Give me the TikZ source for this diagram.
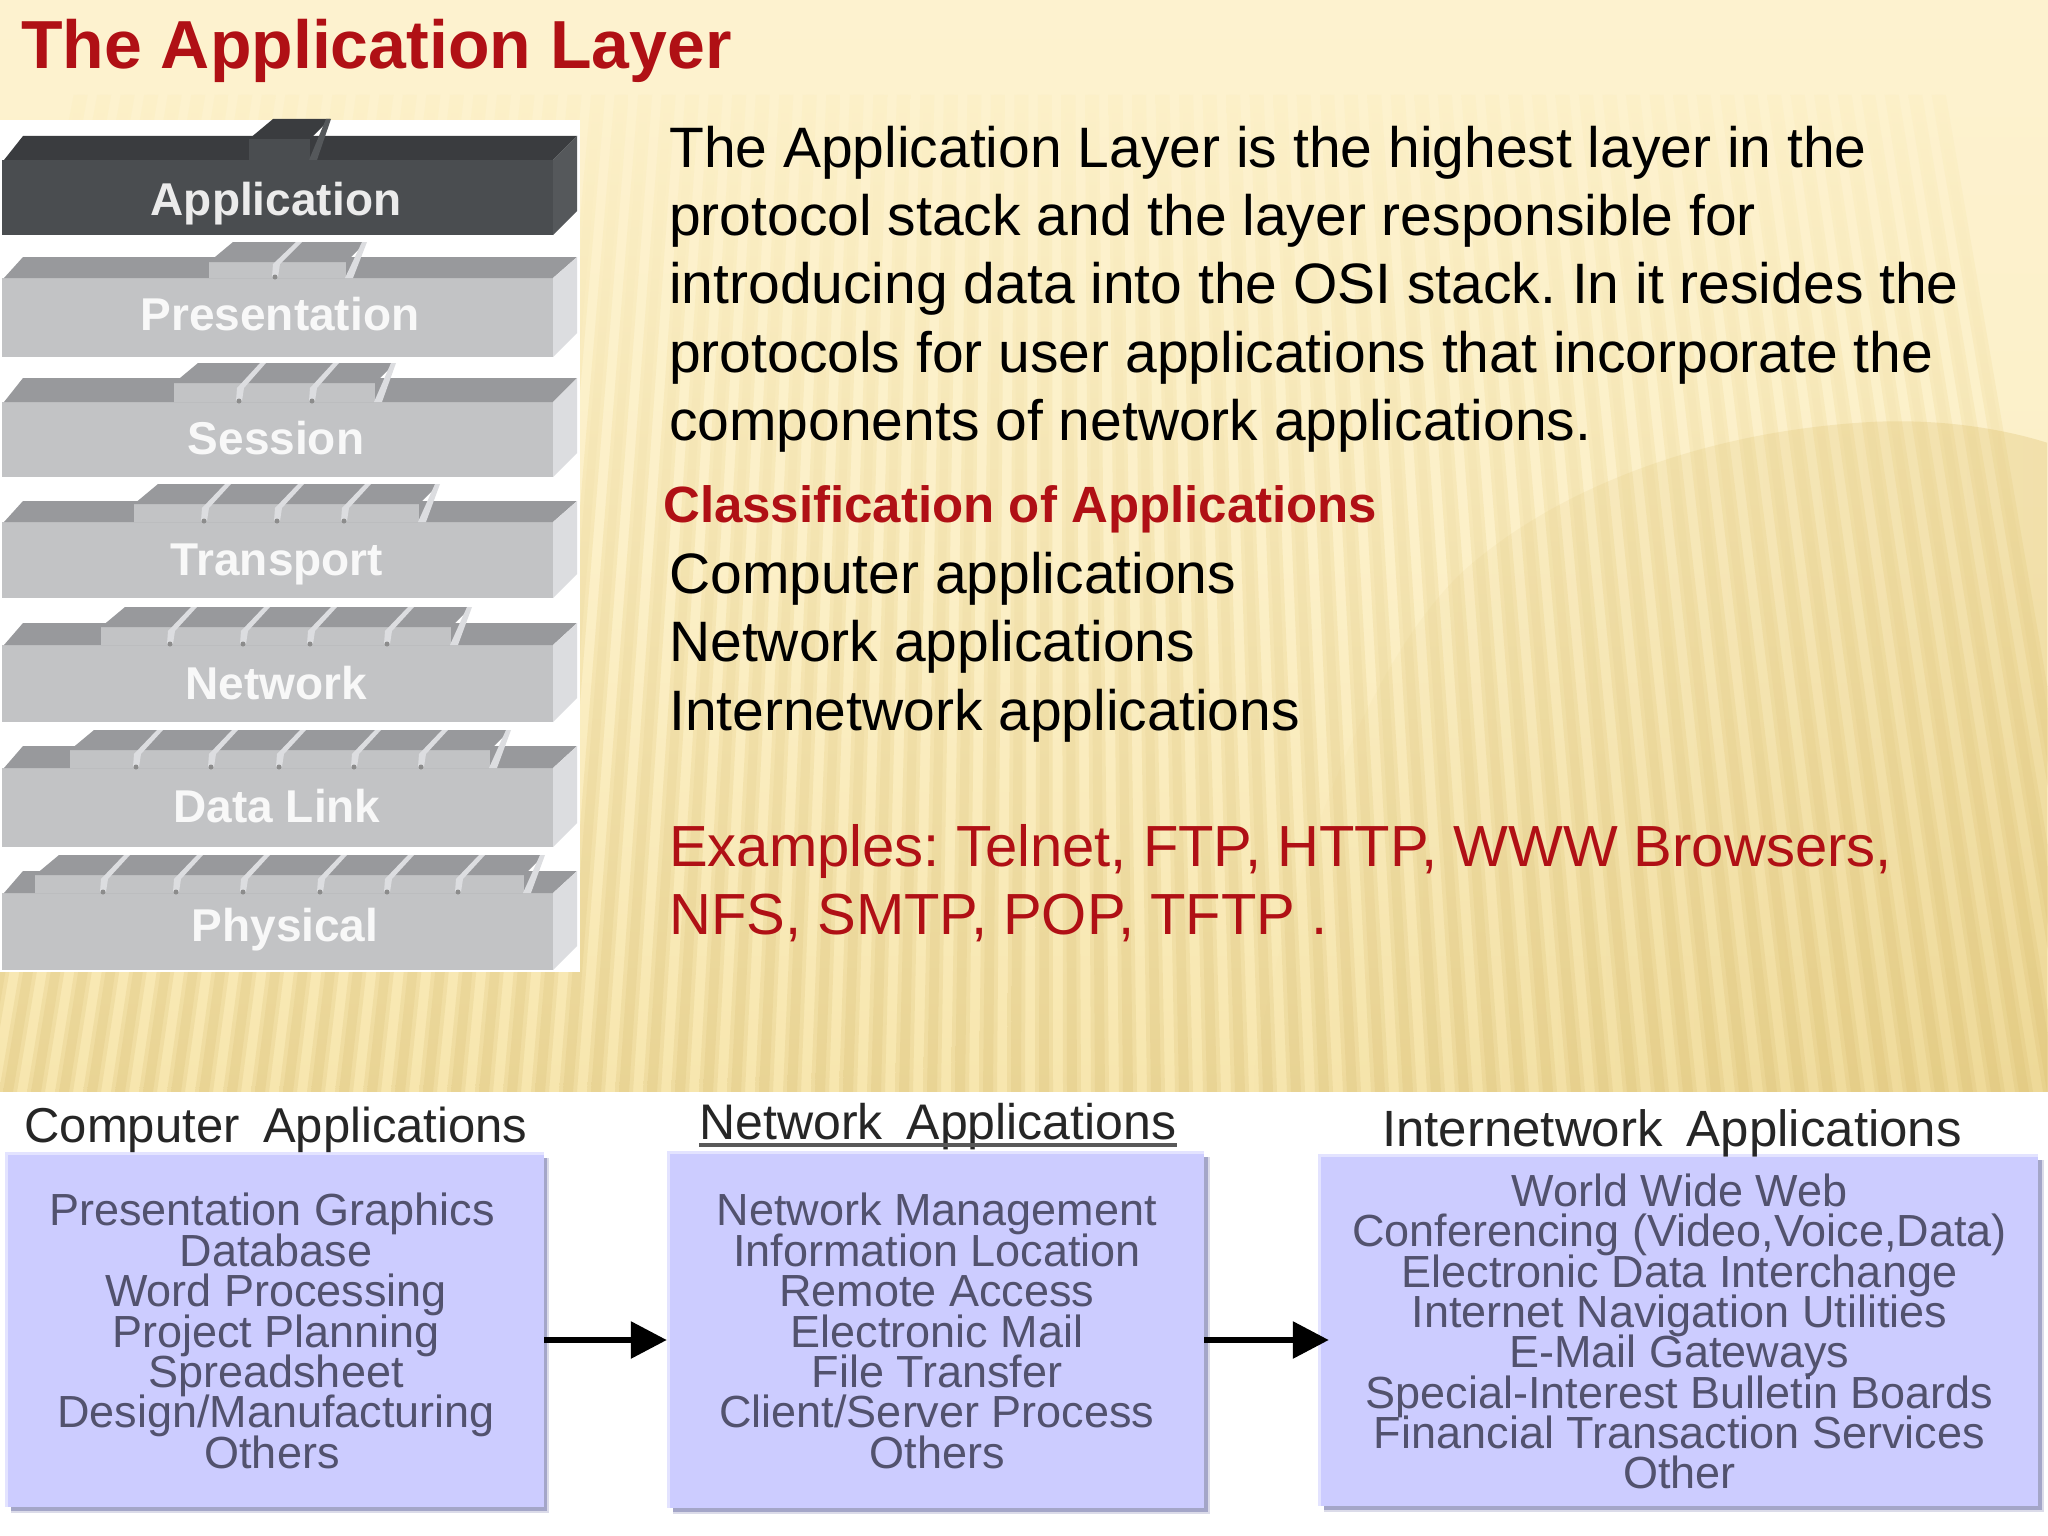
\documentclass[tikz,border=0pt]{standalone}
\usepackage{fontspec}
\setmainfont{Liberation Sans}
\usetikzlibrary{arrows.meta,fadings,calc}
\definecolor{bgtop}{HTML}{FDF2CF}
\definecolor{bgmid}{HTML}{FCF0C8}
\definecolor{bgbot}{HTML}{F7E6AE}
\definecolor{stripebot}{HTML}{E9D494}
\definecolor{domec}{HTML}{D8B85E}
\definecolor{redtxt}{HTML}{B01015}
\definecolor{boxfill}{HTML}{CCCCFF}
\definecolor{boxtxt}{HTML}{52526E}
\definecolor{boxshadow}{HTML}{A4A6C8}
\definecolor{dtop}{HTML}{3A3C3F}
\definecolor{dfront}{HTML}{4A4D50}
\definecolor{dside}{HTML}{55585B}
\definecolor{ltop}{HTML}{98999C}
\definecolor{lfront}{HTML}{C2C3C5}
\definecolor{lside}{HTML}{DCDDE0}
\newcommand{\appfont}{\fontsize{45}{40.4}\selectfont\lineskiplimit=-100pt\relax}
\tikzset{
  body/.style={font=\fontsize{57}{68.3}\selectfont\frenchspacing,anchor=west,inner sep=0pt,align=left,text=black},
  redbody/.style={body,font=\fontsize{58}{68.3}\selectfont\frenchspacing,text=redtxt},
  layerlabel/.style={font=\fontsize{46}{46}\selectfont\bfseries,anchor=base,inner sep=0pt,text=#1},
  appbox/.style={fill=boxfill,inner sep=0pt,align=center,text=boxtxt,font=\appfont},
  apphead/.style={font=\fontsize{#1}{#1}\selectfont,inner sep=0pt,text=black!85},
  flow/.style={line width=6pt,-{Triangle[length=36pt,width=36pt]}},
}
\newcommand{\nudge}{\hspace*{8pt}}
% #1 back y, #2 front-top y, #3 bottom y, #4 bump top y, #5/#6 bump front L/R, #7 top col, #8 front col, #9 side col
\newcommand{\slab}[9]{%
  \fill[#8] (2,#2) rectangle (553,#3);
  \fill[#7] (4,#2) -- (23,#1) -- (577,#1) -- (553,#2) -- cycle;
  \fill[#9] (553,#2) -- (577,#1) -- (577,#3-24) -- (553,#3) -- cycle;
  \fill[#8] (#5,#4+20) rectangle (#6,#2);
  \fill[#7] (#5,#4+20) -- (#5+24,#4) -- (#6+20,#4) -- (#6,#4+20) -- cycle;
  \fill[#9] (#6-1,#2) -- (#6+7,#2) -- (#6+21,#4) -- (#6+16,#4) -- cycle;
}
\newcommand{\notch}[3]{%
  \fill[lside] (#1-3,#2-1) -- (#1+3,#2-1) -- (#1+5,#2-14) -- (#1+27,#3) -- (#1+21,#3) -- (#1-2,#2-14) -- cycle;
  \fill[black!45] (#1,#2-1) circle (2.5);
}
\begin{document}
\begin{tikzpicture}[x=1pt,y=-1pt]
\useasboundingbox (0,0) rectangle (2048,1536);
% background
\fill[white] (0,0) rectangle (2048,1536);
\shade[top color=bgtop,bottom color=bgbot,middle color=bgmid] (0,0) rectangle (2048,1092);
\begin{scope}
\clip (0,0) rectangle (2048,1092);
\foreach \i in {-3,...,76} {
  \pgfmathsetmacro{\xb}{-20+28*\i}
  \pgfmathsetmacro{\xt}{1050+(\xb-1050)*0.84}
  \shade[top color=bgmid,bottom color=stripebot!55!bgbot] (\xt-7,95) -- (\xt+7,95) -- (\xb+9,1092) -- (\xb-9,1092) -- cycle;
  \shade[top color=bgmid,bottom color=stripebot] (\xt-3.5,95) -- (\xt+3.5,95) -- (\xb+5,1092) -- (\xb-5,1092) -- cycle;
}
\shade[left color=domec,right color=domec,path fading=west,fill opacity=.28]
  (1250,1092) .. controls (1300,800) and (1400,620) .. (1476,560)
  .. controls (1560,490) and (1700,430) .. (1876,421)
  .. controls (1950,418) and (2010,430) .. (2048,442) -- (2048,1092) -- cycle;
\end{scope}
% title
\node[font=\fontsize{68}{68}\selectfont\bfseries,text=redtxt,anchor=base west,inner sep=0pt] (title) at (21,69) {The Application Layer};
% OSI stack
\fill[white] (0,120) rectangle (580,972);
\slab{136}{160}{235}{119}{249}{310}{dtop}{dfront}{dside}
\slab{257}{278}{357}{242}{209}{346}{ltop}{lfront}{lside}
\notch{275}{278}{242}
\slab{378}{402}{477}{363}{174}{375}{ltop}{lfront}{lside}
\notch{239}{402}{363}\notch{312}{402}{363}
\slab{501}{522}{598}{484}{134}{419}{ltop}{lfront}{lside}
\notch{204}{522}{484}\notch{277}{522}{484}\notch{344}{522}{484}
\slab{623}{645}{722}{607}{101}{451}{ltop}{lfront}{lside}
\notch{170}{645}{607}\notch{243}{645}{607}\notch{310}{645}{607}\notch{387}{645}{607}
\slab{746}{768}{847}{730}{70}{490}{ltop}{lfront}{lside}
\notch{136}{768}{730}\notch{211}{768}{730}\notch{279}{768}{730}\notch{354}{768}{730}\notch{421}{768}{730}
\slab{871}{893}{970}{855}{35}{524}{ltop}{lfront}{lside}
\notch{103}{893}{855}\notch{176}{893}{855}\notch{243}{893}{855}\notch{320}{893}{855}\notch{387}{893}{855}\notch{458}{893}{855}
\node[layerlabel=white!92!black] (lapp) at (276,215) {Application};
\node[layerlabel=white!88!lfront] (lpre) at (280,330) {Presentation};
\node[layerlabel=white!88!lfront] (lses) at (276,454) {Session};
\node[layerlabel=white!88!lfront] (ltra) at (277,575) {Transport};
\node[layerlabel=white!88!lfront] (lnet) at (276,699) {Network};
\node[layerlabel=white!88!lfront] (ldat) at (277,822) {Data Link};
\node[layerlabel=white!88!lfront] (lphy) at (285,941) {Physical};
% text
\node[body] (para) at (669,289) {The Application Layer is the highest layer in the\\protocol stack and the layer responsible for\\introducing data into the OSI stack. In it resides the\\protocols for user applications that incorporate the\\components of network applications.};
\node[font=\fontsize{51}{51}\selectfont\bfseries,text=redtxt,anchor=base west,inner sep=0pt] (clshead) at (663,522) {Classification of Applications};
\node[body] (clslist) at (669,647) {Computer applications\\Network applications\\Internetwork applications};
\node[redbody] (examples) at (669,883) {Examples: Telnet, FTP, HTTP, WWW Browsers,\\NFS, SMTP, POP, TFTP .};
% bottom
\fill[white] (0,1092) rectangle (2048,1536);
\fill[boxfill!55!white] (5,1152) rectangle (544,1507);
\fill[boxfill!55!white] (667,1151) rectangle (1204,1508);
\fill[boxfill!55!white] (1318,1154) rectangle (2038,1506);
\fill[boxshadow!40!white] (11,1158) rectangle (549,1513);
\fill[boxshadow] (11,1158) rectangle (547,1511);
\fill[boxshadow!40!white] (673,1157) rectangle (1210,1514);
\fill[boxshadow] (673,1157) rectangle (1208,1512);
\fill[boxshadow!40!white] (1324,1160) rectangle (2044,1512);
\fill[boxshadow] (1324,1160) rectangle (2042,1510);
\node[appbox,minimum width=536pt,minimum height=352pt] (comp) at (276,1331) {Presentation Graphics\nudge\\Database\nudge\\Word Processing\nudge\\Project Planning\nudge\\Spreadsheet\nudge\\Design/Manufacturing\nudge\\Others\nudge};
\node[appbox,minimum width=534pt,minimum height=354pt] (net) at (937,1331) {Network Management\\Information Location\\Remote Access\\Electronic Mail\\File Transfer\\Client/Server Process\\Others};
\node[appbox,minimum width=717pt,minimum height=349pt] (inet) at (1679.5,1331.5) {World Wide Web\\Conferencing (Video,Voice,Data)\\Electronic Data Interchange\\Internet Navigation Utilities\\E-Mail Gateways\\Special-Interest Bulletin Boards\\Financial Transaction Services\\Other};
\node[apphead=49] (hcomp) at (276,1130) {Computer\hspace{10pt} Applications};
\node[apphead=50] (hnet) at (938,1127) {Network\hspace{10pt} Applications};
\draw[line width=4pt,black!65] (hnet.base west |- 0,1145) -- (hnet.base east |- 0,1145);
\node[apphead=51] (hinet) at (1672,1133) {Internetwork\hspace{10pt} Applications};
\coordinate (ay) at (0,1340);
\draw[flow,shorten >=3pt] (comp.east |- ay) -- (net.west |- ay);
\draw[flow,shorten >=-8pt] (net.east |- ay) -- (inet.west |- ay);
\end{tikzpicture}
\end{document}
